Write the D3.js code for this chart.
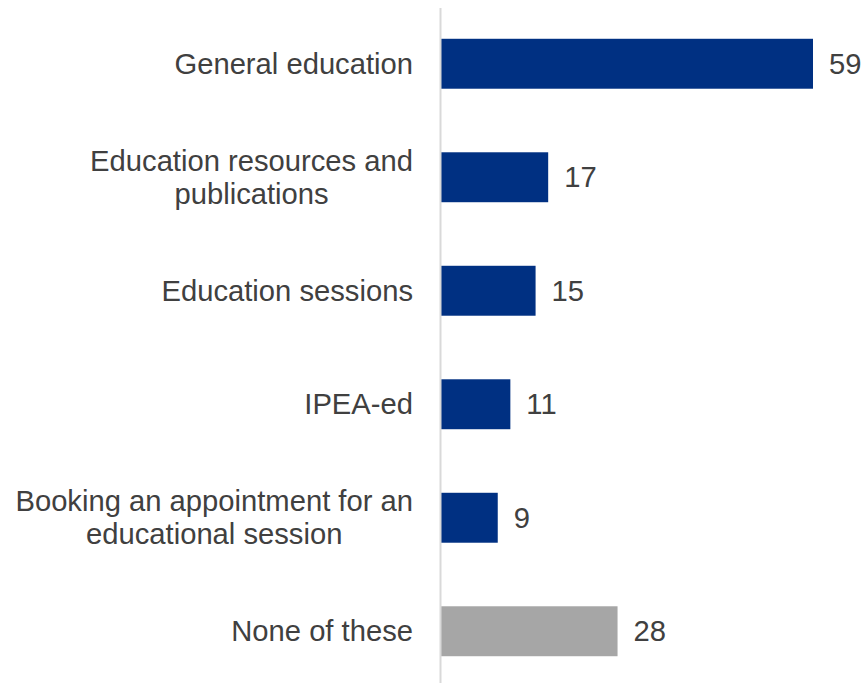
<!DOCTYPE html>
<html>
<head>
<meta charset="utf-8">
<script src="https://cdn.jsdelivr.net/npm/d3@7"></script>
<style>
  html, body { margin: 0; padding: 0; background: #fff; }
  svg { display: block; }
  text { font-family: "Liberation Sans", Arial, sans-serif; fill: #404040; }
</style>
</head>
<body>
<svg id="chart" width="861" height="683"></svg>
<script>
// Survey responses (%)
const categories = [
  ["General education"],
  ["Education resources and", "publications"],
  ["Education sessions"],
  ["IPEA-ed"],
  ["Booking an appointment for an", "educational session"],
  ["None of these"]
];
const values = [59, 17, 15, 11, 9, 28];
const isNone = [false, false, false, false, false, true];

const fontSize = 29.2;
const svg = d3.select("#chart");
const keys = categories.map(d => d.join(" "));

const y = d3.scaleBand()
  .domain(keys)
  .range([7, 688])
  .paddingInner(0.56)
  .paddingOuter(0.28);

const x = d3.scaleLinear()
  .domain([0, 59])
  .range([441, 813]);

const rows = categories.map((c, i) => ({ lines: c, key: keys[i], value: values[i], none: isNone[i] }));

// bars
svg.append("g").selectAll("rect")
  .data(rows)
  .join("rect")
  .attr("x", x(0))
  .attr("y", d => y(d.key))
  .attr("width", d => x(d.value) - x(0))
  .attr("height", y.bandwidth())
  .attr("fill", d => d.none ? "#A6A6A6" : "#003082");

// category axis line
svg.append("line")
  .attr("x1", x(0) - 0.5).attr("x2", x(0) - 0.5)
  .attr("y1", 8).attr("y2", 683)
  .attr("stroke", "#D9D9D9")
  .attr("stroke-width", 2);

// category labels, wrapped and centred on the bar
const lineH = 33;
const labels = svg.append("g").selectAll("text")
  .data(rows)
  .join("text")
  .attr("text-anchor", "middle")
  .attr("font-size", fontSize)
  .attr("y", d => y(d.key) + y.bandwidth() / 2);

labels.each(function (d) {
  const t = d3.select(this);
  const n = d.lines.length;
  if (n === 1) {
    t.attr("text-anchor", "end");
    t.append("tspan").attr("x", 413).attr("dy", "0.35em").text(d.lines[0]);
  } else {
    d.lines.forEach((l, i) => {
      t.append("tspan")
        .attr("dy", i === 0 ? (-(n - 1) / 2 * lineH) + 0.35 * fontSize : lineH)
        .text(l);
    });
    // centre each line under the widest one, right-aligned to the axis gap
    const spans = t.selectAll("tspan").nodes();
    const maxW = d3.max(spans, s => s.getComputedTextLength());
    const cx = 413 - maxW / 2;
    spans.forEach(s => s.setAttribute("x", cx));
  }
});

// value labels
svg.append("g").selectAll("text")
  .data(rows)
  .join("text")
  .attr("font-size", fontSize)
  .attr("x", d => x(d.value) + 16)
  .attr("y", d => y(d.key) + y.bandwidth() / 2)
  .attr("dy", "0.35em")
  .text(d => d.value);
</script>
</body>
</html>
